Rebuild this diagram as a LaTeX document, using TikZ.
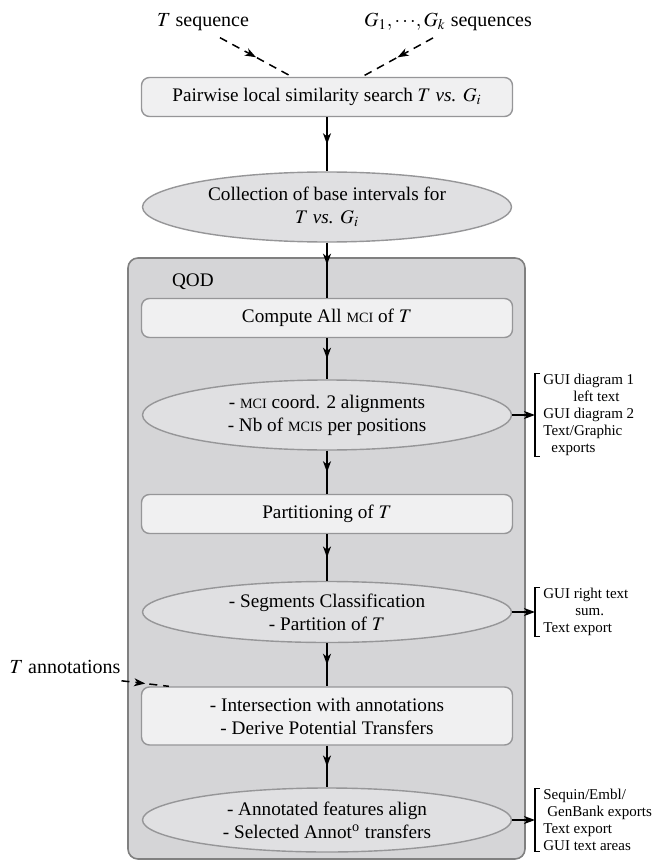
\documentclass[tikz,border=0pt]{standalone}
\usepackage{mathptmx}
\usepackage{fontspec}
\setmainfont{Liberation Serif}
\usetikzlibrary{arrows.meta,positioning,shapes.geometric,decorations.markings,fit}
\definecolor{stepfill}{RGB}{240,240,241}
\definecolor{resultfill}{RGB}{224,224,226}
\definecolor{qodfill}{RGB}{213,213,215}
\definecolor{edgegrey}{RGB}{150,150,152}
\newcommand{\mcisc}[1]{{\fontsize{7.1}{9}\selectfont #1}}
\tikzset{
  stepbox/.style={rectangle,rounded corners=4pt,draw=edgegrey,fill=stepfill,
                  line width=.7pt,minimum width=185.5pt,minimum height=19.5pt,
                  align=center,inner sep=2pt},
  result/.style={ellipse,draw=edgegrey,fill=resultfill,line width=.7pt,
                 minimum width=184.5pt,minimum height=35pt,align=center,inner sep=0pt},
  qodbox/.style={rectangle,rounded corners=5pt,draw=black!50,fill=qodfill,
                 line width=.8pt,inner sep=0pt},
  flow/.style={draw=black,line width=.75pt,postaction={decorate},
               decoration={markings,mark=at position #1 with
                 {\arrow{Stealth[length=5.5pt,width=4pt,inset=1.6pt]}}}},
  flow/.default=.5,
  inflow/.style={flow=.5,dash pattern=on 4pt off 3pt},
  outarrow/.style={-{Stealth[length=5.5pt,width=4pt,inset=1.6pt]},line width=.75pt},
  bracket/.style={line width=.6pt},
  toplabel/.style={font=\fontsize{10}{12}\selectfont},
  outtext/.style={anchor=west,align=left,inner xsep=4pt,inner ysep=0pt,
                  font=\fontsize{7.5}{8.5}\selectfont},
}
\begin{document}
\begin{tikzpicture}[x=0.5pt,y=-0.5pt,font=\fontsize{9.6}{11.5}\selectfont]
  \useasboundingbox (0,0) rectangle (654,861);
  % inputs
  \node[toplabel] (tseq) at (203,22) {$T$ sequence};
  \node[toplabel] (gseq) at (448,22) {$G_1,\cdots\!,G_k$ sequences};
  \node[stepbox] (search) at (327,97)
    {Pairwise local similarity search $T$ \textit{vs.} $G_i$};
  \node[result] (baseint) at (327,207)
    {Collection of base intervals for\\ $T$ \textit{vs.} $G_i$};
  % the QOD block
  \node[qodbox,fit={(128,258) (525,859)}] (qod) {};
  \node[anchor=west] (qodlabel) at (165,282) {QOD};
  \node[stepbox] (allmci) at (327,318) {Compute All \mcisc{MCI} of $T$};
  \node[result] (mcicoord) at (327,415)
    {- \mcisc{MCI} coord. 2 alignments\\ - Nb of \mcisc{MCIS} per positions};
  \node[stepbox] (partition) at (327,514) {Partitioning of $T$};
  \node[result,minimum height=30.5pt] (segclass) at (327,612)
    {- Segments Classification\\ - Partition of $T$};
  \node[stepbox,minimum height=29pt] (intersect) at (327,716)
    {- Intersection with annotations\\ - Derive Potential Transfers};
  \node[result,minimum height=32pt] (transfer) at (327,820)
    {- Annotated features align\\ - Selected Annot\textsuperscript{o} transfers};
  \node[toplabel] (tannot) at (65,667) {$T$ annotations};
  % outputs
  \node[outtext] (guiout1) at (535,415)
    {GUI diagram 1\\ \hspace*{15pt}left text\\ GUI diagram 2\\ Text/Graphic\\
     \hspace*{4pt}exports};
  \node[outtext] (guiout2) at (535,612)
    {GUI right text\\ \hspace*{16pt}sum.\\ Text export};
  \node[outtext] (guiout3) at (535,820)
    {Sequin/Embl/\\ \hspace*{2pt}GenBank exports\\ Text export\\ GUI text areas};
  \foreach \o in {guiout1,guiout2,guiout3}{
    \draw[bracket] ([xshift=2.5pt]\o.north west) -| (\o.south west) -- ++(2.5pt,0);}
  % connectors
  \draw[inflow] ([xshift=8.5pt]tseq.south) -- ([xshift=-17.5pt]search.north);
  \draw[inflow] ([xshift=-7.5pt]gseq.south) -- ([xshift=17.5pt]search.north);
  \draw[inflow] ([xshift=-3pt]tannot.south east) -- ([xshift=14pt]intersect.north west);
  \draw[flow] (search) -- (baseint);
  \draw[flow=.4] (baseint) -- (allmci);
  \draw[flow] (allmci) -- (mcicoord);
  \draw[flow] (mcicoord) -- (partition);
  \draw[flow] (partition) -- (segclass);
  \draw[flow] (segclass) -- (intersect);
  \draw[flow] (intersect) -- (transfer);
  \draw[outarrow] (mcicoord.east) -- (guiout1.west);
  \draw[outarrow] (segclass.east) -- (guiout2.west);
  \draw[outarrow] (transfer.east) -- (guiout3.west);
\end{tikzpicture}
\end{document}
